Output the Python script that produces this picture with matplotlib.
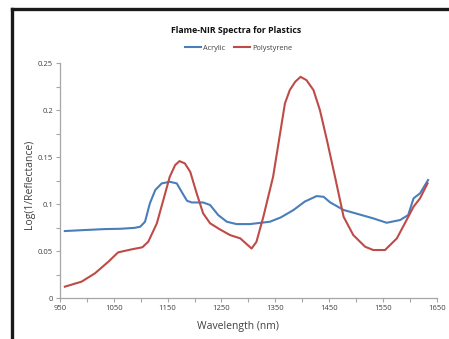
import matplotlib
matplotlib.use('Agg')
import matplotlib.pyplot as plt
from matplotlib.lines import Line2D
import numpy as np

# wavelength (nm) / Log(1/R)
acrylic_wl = [959, 990, 1034, 1062, 1089, 1099, 1103, 1108, 1117, 1127, 1139, 1154,
              1167, 1176, 1186, 1195, 1216, 1229, 1244, 1260, 1278, 1303, 1340, 1360,
              1384, 1405, 1427, 1440, 1452, 1477, 1495, 1532, 1557, 1582, 1597, 1607,
              1619, 1634]
acrylic = [0.0716, 0.0725, 0.0737, 0.0740, 0.0750, 0.0762, 0.0785, 0.0815, 0.101, 0.1152,
           0.1223, 0.124, 0.1223, 0.1134, 0.1038, 0.102, 0.102, 0.0993, 0.0886, 0.0815,
           0.079, 0.079, 0.0815, 0.086, 0.094, 0.103, 0.1088, 0.108, 0.1021, 0.094,
           0.0911, 0.0851, 0.0804, 0.0833, 0.0886, 0.1064, 0.1117, 0.1259]

poly_wl = [959, 990, 1015, 1040, 1058, 1083, 1103, 1114, 1130, 1142, 1154, 1164, 1172,
           1182, 1192, 1204, 1216, 1229, 1247, 1266, 1285, 1306, 1315, 1328, 1346, 1359,
           1368, 1377, 1387, 1397, 1408, 1421, 1433, 1446, 1461, 1477, 1495, 1517, 1532,
           1554, 1576, 1594, 1607, 1619, 1633]
polystyrene = [0.0124, 0.0177, 0.0266, 0.039, 0.0489, 0.0521, 0.0543, 0.0602, 0.0798,
               0.1046, 0.1294, 0.1418, 0.146, 0.1436, 0.1347, 0.1117, 0.0904, 0.0798,
               0.0734, 0.0673, 0.0638, 0.053, 0.060, 0.087, 0.1294, 0.1755, 0.2074,
               0.2216, 0.2304, 0.2357, 0.2322, 0.2216, 0.2003, 0.1684, 0.1294, 0.0868,
               0.0673, 0.0549, 0.0514, 0.0514, 0.0638, 0.0833, 0.0975, 0.1064, 0.1223]

plt.rcParams['font.family'] = ['Open Sans', 'DejaVu Sans']

fig = plt.figure(figsize=(4.49, 3.39), dpi=100)
ax = fig.add_axes([0.1336, 0.120, 0.839, 0.693])

ax.plot(acrylic_wl, acrylic, color='#4A7EBB', linewidth=1.5, label='Acrylic',
        solid_joinstyle='round')
ax.plot(poly_wl, polystyrene, color='#BE4B48', linewidth=1.5, label='Polystyrene',
        solid_joinstyle='round')

ax.set_xlim(950, 1650)
ax.set_ylim(0, 0.25)
ax.set_xticks(np.arange(950, 1651, 100))
ax.set_xticks(np.arange(950, 1651, 50), minor=True)
ax.set_yticks([0, 0.05, 0.1, 0.15, 0.2, 0.25])
ax.set_yticklabels(['0', '0.05', '0.1', '0.15', '0.2', '0.25'])
ax.set_yticks(np.arange(0, 0.251, 0.025), minor=True)
ax.tick_params(which='both', length=3, width=0.8, color='#a6a6a6', labelsize=5.5,
               labelcolor='#404040', pad=2)

for s in ['top', 'right']:
    ax.spines[s].set_visible(False)
for s in ['left', 'bottom']:
    ax.spines[s].set_color('#a6a6a6')
    ax.spines[s].set_linewidth(0.9)

fig.text(0.065, 0.455, 'Log(1/Reflectance)', rotation=90, ha='center', va='center',
         fontsize=7.5, color='#404040')
fig.text(0.53, 0.038, 'Wavelength (nm)', ha='center', va='center', fontsize=7.5,
         color='#404040')
fig.text(0.525, 0.909, 'Flame-NIR Spectra for Plastics', ha='center', va='center',
         fontsize=6.3, fontweight='bold', color='#111111')

fig.legend(loc='center', bbox_to_anchor=(0.532, 0.858), ncol=2, frameon=False,
           fontsize=5.3, handlelength=2.2, handletextpad=0.3, columnspacing=1.2,
           labelcolor='#404040')

# black frame on left and top edges
fig.add_artist(Line2D([0.0267, 0.0267], [0, 0.972], transform=fig.transFigure,
                      color='#1a1a1a', linewidth=2.4))
fig.add_artist(Line2D([0.0267, 1.0], [0.972, 0.972], transform=fig.transFigure,
                      color='#1a1a1a', linewidth=2.4))

plt.savefig('out.png', dpi=100, facecolor='white')
